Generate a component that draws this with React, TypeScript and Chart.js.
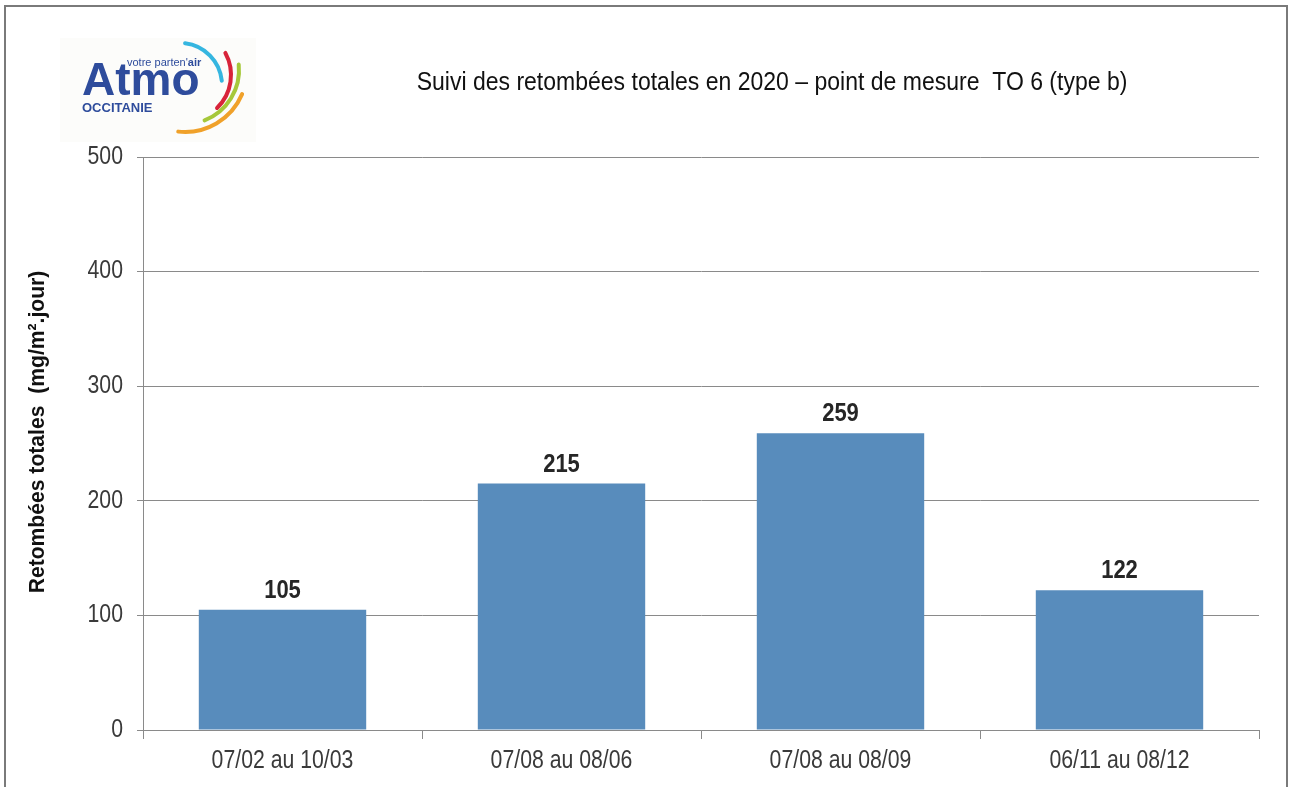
import React, { useEffect, useRef } from "react";
import { Chart, registerables } from "chart.js";

Chart.register(...registerables);

const categories = ["07/02 au 10/03", "07/08 au 08/06", "07/08 au 08/09", "06/11 au 08/12"];
const values = [105, 215, 259, 122];
const yTickValues = [0, 100, 200, 300, 400, 500];
const chartTitle = "Suivi des retombées totales en 2020 – point de mesure  TO 6 (type b)";
const yAxisTitle = "Retombées totales  (mg/m².jour)";

const FONT = "'Liberation Sans', Arial, sans-serif";

function drawText(
  ctx: CanvasRenderingContext2D,
  text: string,
  x: number,
  y: number,
  font: string,
  sx: number,
  align: CanvasTextAlign,
  baseline: CanvasTextBaseline,
  color: string
) {
  ctx.save();
  ctx.translate(x, y);
  ctx.scale(sx, 1);
  ctx.font = font;
  ctx.fillStyle = color;
  ctx.textAlign = align;
  ctx.textBaseline = baseline;
  ctx.fillText(text, 0, 0);
  ctx.restore();
}

const decorPlugin = {
  id: "decor",
  beforeDraw(chart: any) {
    const ctx = chart.ctx;
    ctx.save();
    ctx.fillStyle = "#ffffff";
    ctx.fillRect(0, 0, chart.width, chart.height);
    // frame
    ctx.strokeStyle = "#7a7a7a";
    ctx.lineWidth = 2;
    ctx.beginPath();
    ctx.moveTo(5, 800);
    ctx.lineTo(5, 6);
    ctx.lineTo(1287, 6);
    ctx.lineTo(1287, 800);
    ctx.stroke();

    // logo background
    ctx.fillStyle = "#fcfcfa";
    ctx.fillRect(60, 38, 196, 104);
    const arc = (cx: number, cy: number, r: number, a0: number, a1: number, col: string, w: number) => {
      ctx.strokeStyle = col;
      ctx.lineWidth = w;
      ctx.lineCap = "round";
      ctx.beginPath();
      ctx.arc(cx, cy, r, a0, a1);
      ctx.stroke();
    };
    arc(180, 85, 42, -1.45, -0.1, "#35b6e0", 4);
    arc(185, 75, 46, -0.5, 0.8, "#d8243a", 4);
    arc(185, 70, 54, -0.1, 1.2, "#a6c83a", 4);
    arc(185, 70, 62, 0.4, 1.68, "#f0a12a", 4);
    // logo texts
    const blue = "#2e4c9c";
    drawText(ctx, "Atmo", 82, 95, "bold 46px 'Liberation Sans', Arial, sans-serif", 1, "left", "alphabetic", blue);
    ctx.font = "11px 'Liberation Sans', Arial, sans-serif";
    const w = ctx.measureText("votre parten'").width;
    drawText(ctx, "votre parten'", 127, 66, "11px 'Liberation Sans', Arial, sans-serif", 1, "left", "alphabetic", blue);
    drawText(ctx, "air", 127 + w, 66, "bold 11px 'Liberation Sans', Arial, sans-serif", 1, "left", "alphabetic", blue);
    drawText(ctx, "OCCITANIE", 82, 112, "bold 13px 'Liberation Sans', Arial, sans-serif", 1, "left", "alphabetic", blue);

    // chart title
    drawText(ctx, chartTitle, 772, 90, `26px ${FONT}`, 0.885, "center", "alphabetic", "#111111");

    // y title
    ctx.save();
    ctx.translate(38, 432);
    ctx.rotate(-Math.PI / 2);
    drawText(ctx, yAxisTitle, 0, 0, `bold 22px ${FONT}`, 0.96, "center", "middle", "#111111");
    ctx.restore();
    ctx.restore();
  },
  afterDraw(chart: any) {
    const ctx = chart.ctx;
    const xs = chart.scales.x;
    const ys = chart.scales.y;
    categories.forEach((c, i) => {
      drawText(ctx, c, xs.getPixelForTick(i), 761, `25px ${FONT}`, 0.85, "center", "middle", "#3a3a3a");
    });
    yTickValues.forEach((v) => {
      drawText(ctx, String(v), 123, ys.getPixelForValue(v), `25px ${FONT}`, 0.85, "right", "middle", "#3a3a3a");
    });
    const meta = chart.getDatasetMeta(0);
    meta.data.forEach((bar: any, i: number) => {
      drawText(ctx, String(values[i]), bar.x, bar.y - 12, `bold 25px ${FONT}`, 0.88, "center", "alphabetic", "#262626");
    });
  },
};

export default function App() {
  const ref = useRef<HTMLCanvasElement>(null);
  useEffect(() => {
    document.body.style.margin = "0";
    const chart = new Chart(ref.current!, {
      type: "bar",
      data: {
        labels: categories,
        datasets: [
          {
            data: values,
            backgroundColor: "#588cbc",
            borderWidth: 0,
            categoryPercentage: 1,
            barPercentage: 0.6,
          },
        ],
      },
      options: {
        responsive: false,
        animation: false,
        layout: { padding: { left: 0, right: 31, top: 157, bottom: 0 } },
        plugins: { legend: { display: false }, tooltip: { enabled: false } },
        scales: {
          x: {
            offset: true,
            grid: {
              offset: true,
              drawOnChartArea: false,
              drawTicks: true,
              tickLength: 9,
              color: "#8a8a8a",
            },
            border: { display: true, color: "#8a8a8a", width: 1 },
            ticks: { display: false },
            afterFit(scale: any) {
              scale.height = 57;
            },
          },
          y: {
            min: 0,
            max: 500,
            afterBuildTicks(scale: any) {
              scale.ticks = yTickValues.map((v) => ({ value: v }));
            },
            grid: { color: "#8a8a8a", tickLength: 6, drawTicks: true },
            border: { display: true, color: "#8a8a8a", width: 1 },
            ticks: { display: false },
            afterFit(scale: any) {
              scale.width = 143;
            },
          },
        },
      },
      plugins: [decorPlugin],
    });
    return () => chart.destroy();
  }, []);
  return (
    <div style={{ width: 1290, height: 787 }}>
      <canvas ref={ref} width={1290} height={787} />
    </div>
  );
}
